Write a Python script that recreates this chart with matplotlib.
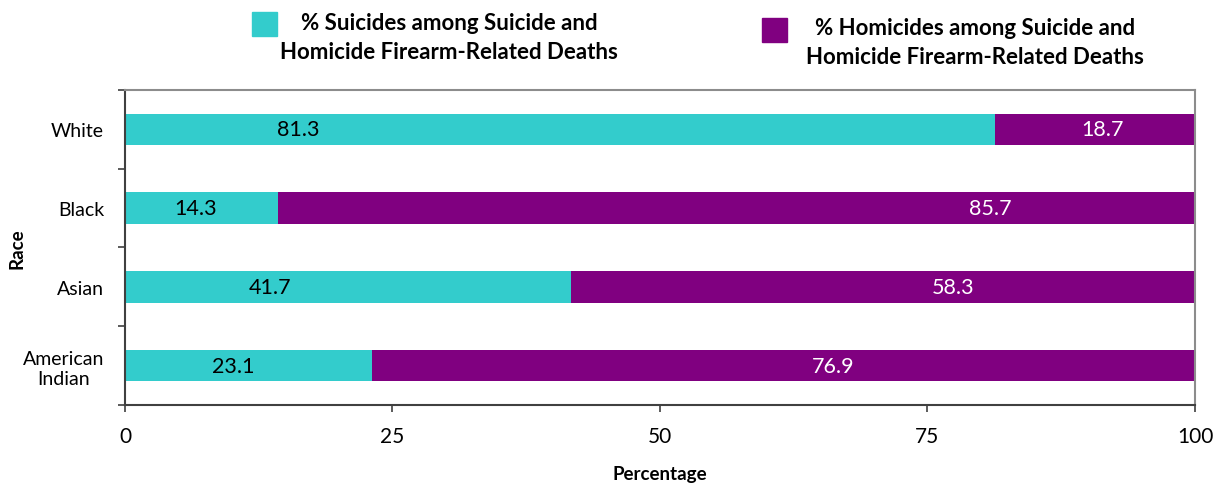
import matplotlib.pyplot as plt
from matplotlib.patches import Rectangle

races = ["American\nIndian", "Asian", "Black", "White"]
suicide_pct = [23.1, 41.7, 14.3, 81.3]
homicide_pct = [76.9, 58.3, 85.7, 18.7]
legend_labels = [
    "% Suicides among Suicide and\nHomicide Firearm-Related Deaths",
    "% Homicides among Suicide and\nHomicide Firearm-Related Deaths",
]
x_ticks = [0, 25, 50, 75, 100]

# where Excel happened to drop the value labels (data units)
suicide_label_x = [10.1, 13.6, 6.6, 16.2]
homicide_label_x = [66.2, 77.4, 80.9, 91.4]

CYAN = "#33CCCC"
PURPLE = "#800080"

plt.rcParams["font.family"] = ["Lato", "DejaVu Sans"]


def main():
    fig = plt.figure(figsize=(12.16, 4.85), dpi=100)
    ax = fig.add_axes([0.1028, 0.1629, 0.8799, 0.6495])

    ypos = list(range(len(races)))
    ax.barh(ypos, suicide_pct, height=0.4, color=CYAN)
    ax.barh(ypos, homicide_pct, left=suicide_pct, height=0.4, color=PURPLE)

    for y, xs, v in zip(ypos, suicide_label_x, suicide_pct):
        ax.text(xs, y, f"{v:.1f}", ha="center", va="center", fontsize=15.5, color="black")
    for y, xh, v in zip(ypos, homicide_label_x, homicide_pct):
        ax.text(xh, y, f"{v:.1f}", ha="center", va="center", fontsize=15.5, color="white")

    ax.set_xlim(0, 100)
    ax.set_ylim(-0.5, len(races) - 0.5)
    ax.set_xticks(x_ticks)
    ax.set_xticklabels([str(t) for t in x_ticks], fontsize=15)
    ax.tick_params(axis="x", direction="out", length=5, width=1.2, color="#404040", pad=10)

    ax.set_yticks(ypos)
    ax.set_yticklabels(races, fontsize=14, multialignment="center")
    ax.tick_params(axis="y", which="major", length=0, pad=15)
    ax.set_yticks([i - 0.5 for i in range(len(races) + 1)], minor=True)
    ax.tick_params(axis="y", which="minor", direction="out", length=5, width=1.2, color="#404040")

    for side in ["left", "bottom"]:
        ax.spines[side].set_color("#404040")
        ax.spines[side].set_linewidth(1.5)
    for side in ["top", "right"]:
        ax.spines[side].set_color("#8c8c8c")
        ax.spines[side].set_linewidth(1.5)

    ax.set_xlabel("Percentage", fontsize=13.5, fontweight="bold", labelpad=14)
    ax.set_ylabel("Race", fontsize=13.5, fontweight="bold")
    ax.yaxis.set_label_coords(-0.093, 0.5)

    # legend drawn by hand: two entries side by side above the plot
    W, H = 1216, 485
    entries = [
        (CYAN, (252, 13), (449, 38)),
        (PURPLE, (762, 19), (975, 43)),
    ]
    for (color, (sx, sy), (tx, ty)), label in zip(entries, legend_labels):
        fig.patches.append(Rectangle((sx / W, 1 - (sy + 24) / H), 25 / W, 24 / H,
                                     transform=fig.transFigure, color=color))
        fig.text(tx / W, 1 - ty / H, label, ha="center", va="center", fontsize=16,
                 fontweight="bold", linespacing=1.5)

    fig.savefig("out.png", dpi=100)
    plt.close(fig)


if __name__ == "__main__":
    main()
